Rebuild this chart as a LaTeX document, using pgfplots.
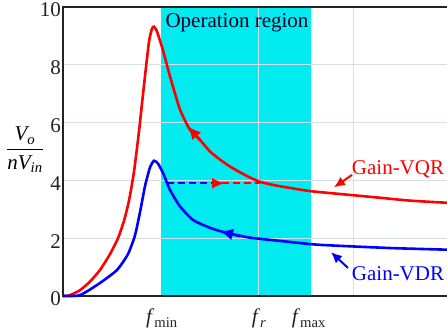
\documentclass[border=0pt]{standalone}
\usepackage{amsmath}
\usepackage{fontspec}
\setmainfont{Liberation Serif}
\usepackage{pgfplots}
\pgfplotsset{compat=1.18}
\usetikzlibrary{arrows.meta}
\definecolor{opcyan}{RGB}{0,236,240}
\definecolor{gridc}{RGB}{210,224,235}
\definecolor{axc}{RGB}{35,35,35}
\begin{document}
\fontsize{21}{25}\selectfont
\begin{tikzpicture}
\begin{axis}[
  at={(63pt,37pt)}, anchor=south west,
  scale only axis, width=387pt, height=289pt,
  xmin=63, xmax=450, ymin=0, ymax=10,
  set layers, clip=false,
  axis line style={axc, line width=1.6pt},
  ytick={0,2,...,10},
  xtick={162,259,309},
  xticklabels={\textit{f}$_{\text{min}}$, \textit{f}$_{\textit{r}}$, \textit{f}$_{\text{max}}$},
  minor xtick={258,353},
  xminorgrids, ymajorgrids,
  grid style={gridc, line width=0.8pt},
  minor grid style={gridc, line width=0.8pt},
  major tick length=0pt, minor tick length=0pt,
  /pgf/number format/assume math mode=true,
  tick label style={font=\fontsize{21}{25}\selectfont, text=axc},
  yticklabel style={inner sep=2pt, yshift=-3pt},
  xticklabel style={yshift=-6pt},
]
% operation region
\addplot[draw=none, fill=opcyan, on layer=axis background] coordinates {(161,0) (161,10) (311,10) (311,0)} \closedcycle;

% Gain-VQR (red)
\addplot[red, line width=2.6pt, smooth, tension=0.35] coordinates {
(63,0) (70,0.03) (80,0.2) (90,0.5) (100,0.9) (110,1.45) (118,2.0) (124,2.6) (129,3.3) (134,4.3)
(139,5.7) (144,7.3) (149,8.8) (152,9.25) (154,9.32) (157,9.15) (163,8.5) (170,7.6) (180,6.45)
(190,5.75) (200,5.4) (210,5.0) (220,4.72) (230,4.48) (240,4.28) (250,4.1) (260,3.95)
(275,3.83) (290,3.74) (310,3.63) (340,3.53) (380,3.4) (410,3.3) (450,3.22)};

% Gain-VDR (blue)
\addplot[blue, line width=2.6pt, smooth, tension=0.35] coordinates {
(63,0) (80,0.03) (100,0.45) (117,0.9) (128,1.45) (135,2.1) (140,2.9) (145,3.8) (150,4.45)
(154,4.68) (158,4.58) (163,4.26) (170,3.67) (180,3.1) (193,2.63) (210,2.36) (225,2.2)
(250,2.02) (290,1.87) (320,1.77) (390,1.66) (450,1.6)};

% direction arrowheads on curves
\addplot[red, line width=2.6pt, -{Latex[length=13pt,width=12pt]}] coordinates {(200,5.4) (188,5.87)};
\addplot[blue, line width=2.6pt, -{Latex[length=13pt,width=12pt]}] coordinates {(240,2.07) (220,2.24)};

% dashed transfer
\addplot[blue, line width=1.8pt, dash pattern=on 7pt off 4pt] coordinates {(167,3.9) (212,3.9)};
\addplot[red, line width=1.8pt, dash pattern=on 7pt off 4pt] coordinates {(222,3.9) (260,3.9)};
\addplot[red, line width=1.8pt, -{Latex[length=12pt,width=11pt]}] coordinates {(212,3.9) (224,3.9)};

% labels
\node[red, inner sep=0pt] at (axis cs:398,4.4) {Gain-VQR};
\draw[red, line width=2pt, -{Latex[length=11pt,width=10pt]}] (axis cs:352,4.19) -- (axis cs:334,3.76);
\node[blue, inner sep=0pt] at (axis cs:398,0.78) {Gain-VDR};
\draw[blue, line width=2pt, -{Latex[length=11pt,width=10pt]}] (axis cs:348,0.97) -- (axis cs:331,1.52);
\node[inner sep=0pt, text=black!85!blue] at (axis cs:237,9.45) {Operation region};
\node at (axis cs:25,5.06) {$\dfrac{\textit{V}_{\textit{o}}}{\textit{nV}_{\textit{in}}}$};
\end{axis}
\pgfresetboundingbox
\useasboundingbox (0,0) rectangle (447pt,333pt);
\end{tikzpicture}
\end{document}
